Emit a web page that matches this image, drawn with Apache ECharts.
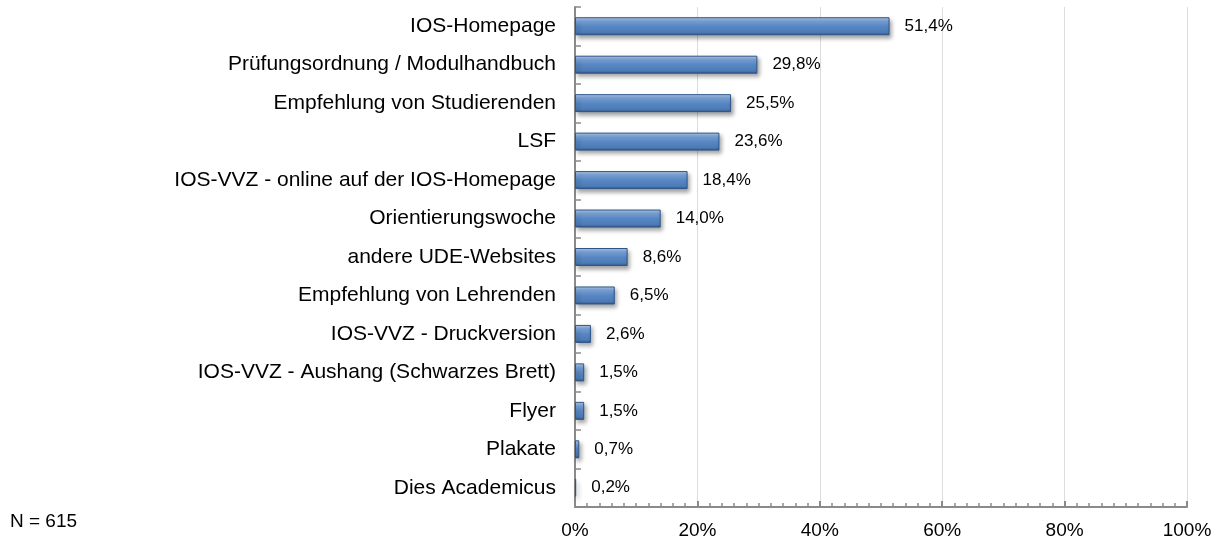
<!DOCTYPE html>
<html>
<head>
<meta charset="utf-8">
<script src="https://cdn.jsdelivr.net/npm/echarts@6/dist/echarts.min.js"></script>
<style>
  html, body { margin: 0; padding: 0; background: #fff; }
  #main { width: 1227px; height: 540px; }
</style>
</head>
<body>
<div id="main"></div>
<script>
// data, top to bottom
const categories = [
  'IOS-Homepage',
  'Prüfungsordnung / Modulhandbuch',
  'Empfehlung von Studierenden',
  'LSF',
  'IOS-VVZ - online auf der IOS-Homepage',
  'Orientierungswoche',
  'andere UDE-Websites',
  'Empfehlung von Lehrenden',
  'IOS-VVZ - Druckversion',
  'IOS-VVZ - Aushang (Schwarzes Brett)',
  'Flyer',
  'Plakate',
  'Dies Academicus'
];
const shares = [51.4, 29.8, 25.5, 23.6, 18.4, 14.0, 8.6, 6.5, 2.6, 1.5, 1.5, 0.7, 0.2];
const xTicks = [0, 20, 40, 60, 80, 100];
const sampleNote = 'N = 615';

const FONT = '"Liberation Sans", Arial, sans-serif';

const chart = echarts.init(document.getElementById('main'));

// bar fill: lit top edge, darker bottom, like the old 3D look
const barFill = new echarts.graphic.LinearGradient(0, 0, 0, 1, [
  { offset: 0, color: '#b3cbea' },
  { offset: 0.2, color: '#7fa8dc' },
  { offset: 0.5, color: '#5887c5' },
  { offset: 0.85, color: '#4c7ab5' },
  { offset: 1, color: '#2e5282' }
]);

chart.setOption({
  animation: false,
  backgroundColor: '#ffffff',
  grid: { left: 575, right: 40, top: 7, bottom: 33, containLabel: false },
  xAxis: {
    type: 'value',
    min: xTicks[0],
    max: xTicks[xTicks.length - 1],
    interval: 20,
    axisLine: { show: true, lineStyle: { color: '#8a8a8a', width: 2 } },
    axisTick: { show: true, inside: true, length: 6, lineStyle: { color: '#8a8a8a', width: 2 } },
    minorTick: { show: true, splitNumber: 10, length: 4, lineStyle: { color: '#8a8a8a', width: 1.5 } },
    splitLine: { show: true, lineStyle: { color: '#dcdcdc', width: 1 } },
    axisLabel: {
      margin: 14,
      color: '#000',
      fontFamily: FONT,
      fontSize: 19,
      formatter: v => v + '%'
    }
  },
  yAxis: {
    type: 'category',
    data: categories,
    inverse: true,
    axisLine: { show: true, lineStyle: { color: '#8a8a8a', width: 2 } },
    axisTick: { show: true, inside: true, length: 6, lineStyle: { color: '#8a8a8a', width: 1.5 } },
    axisLabel: {
      margin: 19,
      color: '#000',
      fontFamily: FONT,
      fontSize: 21
    }
  },
  series: [
    {
      type: 'bar',
      data: shares,
      barWidth: 18,
      itemStyle: {
        color: barFill,
        borderColor: '#2f5587',
        borderWidth: 1,
        shadowBlur: 4,
        shadowColor: 'rgba(0,0,0,0.35)',
        shadowOffsetX: 2,
        shadowOffsetY: 3
      },
      label: {
        show: true,
        position: 'right',
        distance: 15,
        color: '#000',
        fontFamily: FONT,
        fontSize: 17,
        formatter: p => p.value.toFixed(1).replace('.', ',') + '%'
      }
    }
  ],
  graphic: [
    {
      type: 'text',
      left: 10,
      top: 512,
      style: { text: sampleNote, fill: '#000', font: '19px ' + FONT }
    }
  ]
});
</script>
</body>
</html>
